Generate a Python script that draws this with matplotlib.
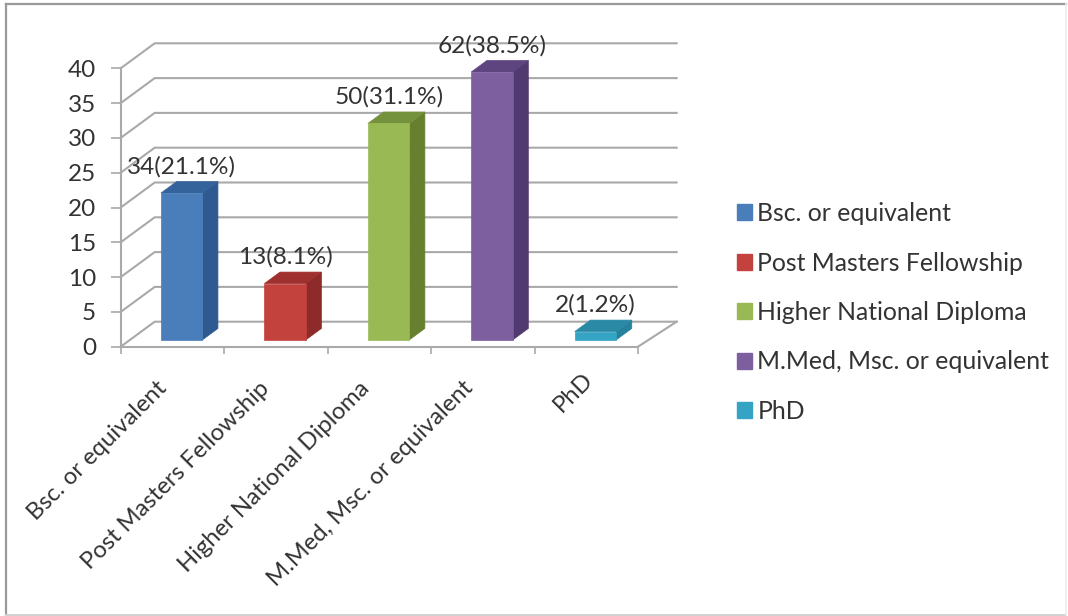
import matplotlib
matplotlib.use("Agg")
import matplotlib.pyplot as plt
from matplotlib.lines import Line2D
from matplotlib.patches import Polygon, Patch

categories = ["Bsc. or equivalent", "Post Masters Fellowship", "Higher National Diploma",
              "M.Med, Msc. or equivalent", "PhD"]
counts = [34, 13, 50, 62, 2]
percents = [21.1, 8.1, 31.1, 38.5, 1.2]
y_ticks = [0, 5, 10, 15, 20, 25, 30, 35, 40]

front_colors = ["#4a7ebb", "#c4423e", "#98b954", "#7d5fa0", "#35a3c4"]
side_colors = ["#2f5a8f", "#8c2b29", "#66802f", "#503a70", "#26829c"]
top_colors = ["#34639b", "#a0302d", "#74913b", "#5e4580", "#2a8aa6"]
GRID = "#a9a9a9"
TEXT = "#333333"

W, H = 1068, 616
X0, X1, Y_BASE, Y_TOP = 120.7, 638.0, 346.7, 68.3
BACK_RIGHT = 5.045  # the back wall runs slightly past the front edge

# Oblique projection: a depth of 1 moves a point right and up on the page
DEPTH_X = 34.0 / ((X1 - X0) / 5)
DEPTH_Y = 25.0 / ((Y_BASE - Y_TOP) / 40)


def project(x, y, d):
    return (x + d * DEPTH_X, y + d * DEPTH_Y)


plt.rcParams["font.family"] = ["Lato", "DejaVu Sans"]
fig = plt.figure(figsize=(W / 100, H / 100), dpi=100, facecolor="white")
ax = fig.add_axes([X0 / W, 1 - Y_BASE / H, (X1 - X0) / W, (Y_BASE - Y_TOP) / H])
ax.set_xlim(0, 5)
ax.set_ylim(0, 40)
ax.patch.set_visible(False)
for name in ("top", "right"):
    ax.spines[name].set_visible(False)
for name in ("left", "bottom"):
    ax.spines[name].set_color(GRID)
    ax.spines[name].set_linewidth(1.5)

ax.set_yticks(y_ticks)
ax.tick_params(axis="y", length=7.2, width=1.2, color=GRID, labelsize=17.5, labelcolor=TEXT, pad=10.5)
ax.set_xticks(range(6))
ax.set_xticklabels([])
ax.tick_params(axis="x", length=5, width=1.2, color=GRID)
# Category labels hang left of each slot's centre; the short last one sits further right
label_slots = [0.345, 1.335, 2.30, 3.30, 4.461]
ax.set_xticks(label_slots, minor=True)
ax.set_xticklabels(categories, minor=True, rotation=45, ha="right", va="top",
                   rotation_mode="anchor", fontsize=17.2, color=TEXT)
ax.tick_params(axis="x", which="minor", length=0, pad=22)
ax.xaxis.get_minor_ticks()[4].set_pad(15.5)

# Back wall gridlines and their returns along the side wall
for t in y_ticks:
    bx0, by = project(0, t, 1)
    bx1, _ = project(BACK_RIGHT, t, 1)
    ax.plot([0, bx0, bx1], [t, by, by], color=GRID, lw=1.5, clip_on=False, zorder=1,
            solid_joinstyle="miter")
fx, fy = project(BACK_RIGHT, 0, 1)
ax.plot([5, fx], [0, fy], color=GRID, lw=1.5, clip_on=False, zorder=1)

# Each bar is three faces: front, right side, top
d0, d1 = 0.27, 0.73
b0, b1 = 0.30, 0.70
for i, v in enumerate(percents):
    l, r = i + b0, i + b1
    faces = [
        ([project(r, 0, d0), project(r, 0, d1), project(r, v, d1), project(r, v, d0)], side_colors[i]),
        ([project(l, v, d0), project(r, v, d0), project(r, v, d1), project(l, v, d1)], top_colors[i]),
        ([project(l, 0, d0), project(r, 0, d0), project(r, v, d0), project(l, v, d0)], front_colors[i]),
    ]
    for pts, color in faces:
        ax.add_patch(Polygon(pts, closed=True, facecolor=color, edgecolor=color, lw=0.5,
                             clip_on=False, zorder=3))
    ax.text(i + 0.59, v + 4.8, f"{counts[i]}({v}%)", ha="center", va="center", fontsize=17.6,
            color=TEXT, zorder=4, clip_on=False)

handles = [Patch(facecolor=c, edgecolor=c) for c in front_colors]
fig.legend(handles, categories, loc="center left", bbox_to_anchor=(737 / W, 1 - 312.5 / H),
           frameon=False, fontsize=17.8, labelcolor=TEXT, handlelength=0.62, handleheight=0.62,
           handletextpad=0.2, labelspacing=1.07, borderpad=0, borderaxespad=0)

# Chart frame: darker along the top and left, fading on the other two sides
px = lambda x, y: (x / W, 1 - y / H)
for start, end, color, width in [
    ((6, 4), (1066, 4), "#9a9a9a", 1.6),
    ((6, 4), (6, 615), "#9a9a9a", 1.6),
    ((6, 615), (1066, 615), "#d0d0d0", 1.4),
    ((1066, 4), (1066, 615), "#ececec", 1.2),
]:
    xs, ys = zip(px(*start), px(*end))
    fig.add_artist(Line2D(xs, ys, transform=fig.transFigure, color=color, lw=width))

fig.savefig("out.png", dpi=100)
